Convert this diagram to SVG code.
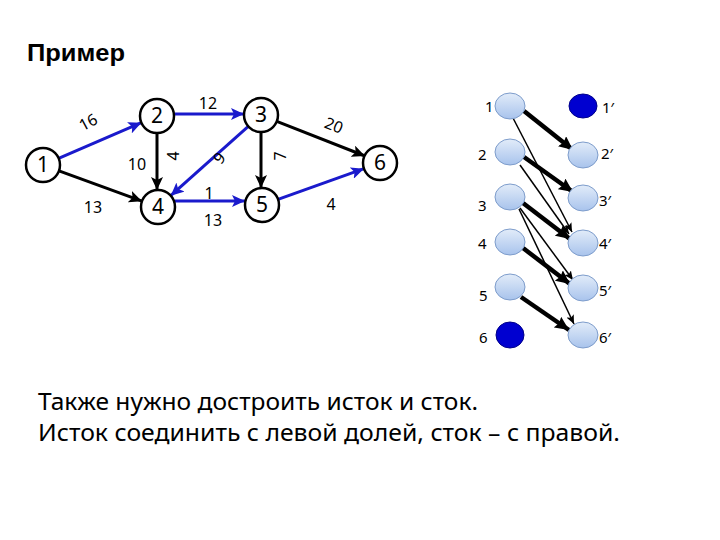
<svg xmlns="http://www.w3.org/2000/svg" width="720" height="540" viewBox="0 0 720 540">
<style>
.nd{fill:#fff;stroke:#000;stroke-width:2.5}
.nt{font-family:"Noto Sans","DejaVu Sans",sans-serif;font-size:21px;text-anchor:middle;dominant-baseline:central;fill:#000}
.el{font-family:"Noto Sans","DejaVu Sans",sans-serif;font-size:16px;text-anchor:middle;dominant-baseline:central;fill:#000}
.bl{stroke:#1a1acc;stroke-width:3;fill:none}
.bk{stroke:#000;stroke-width:3;fill:none}
.bn{fill:url(#lg);stroke:#7d9ccb;stroke-width:1}
.bf{fill:#0000d0;stroke:#00008a;stroke-width:1}
.bt{font-family:"Noto Sans","DejaVu Sans",sans-serif;font-size:15px;dominant-baseline:central;fill:#000}
.th{stroke:#000;stroke-width:4.5;fill:none}
.tn{stroke:#000;stroke-width:1.5;fill:none}
.tx{font-family:"Noto Sans","DejaVu Sans",sans-serif;font-size:24px;fill:#000}
</style>
<defs>
<linearGradient id="lg" x1="0" y1="0" x2="0" y2="1">
<stop offset="0" stop-color="#e2ecf9"/>
<stop offset="1" stop-color="#a8c3ec"/>
</linearGradient>
<marker id="ab" markerUnits="userSpaceOnUse" markerWidth="14" markerHeight="12" refX="13" refY="6" orient="auto"><path d="M0,0 L13,6 L0,12 L3,6 Z" fill="#1a1acc"/></marker>
<marker id="ak" markerUnits="userSpaceOnUse" markerWidth="14" markerHeight="12" refX="13" refY="6" orient="auto"><path d="M0,0 L13,6 L0,12 L3,6 Z" fill="#000"/></marker>
<marker id="at" markerUnits="userSpaceOnUse" markerWidth="15" markerHeight="13" refX="14" refY="6.5" orient="auto"><path d="M0,0 L14,6.5 L0,13 L2,6.5 Z" fill="#000"/></marker>
<marker id="an" markerUnits="userSpaceOnUse" markerWidth="10" markerHeight="8" refX="9" refY="4" orient="auto"><path d="M0,0 L9,4 L0,8 L2,4 Z" fill="#000"/></marker>
</defs>
<rect width="720" height="540" fill="#fff"/>
<text x="27" y="61" font-family="'Liberation Sans',Arial,sans-serif" font-size="24" font-weight="bold" textLength="98" lengthAdjust="spacingAndGlyphs">Пример</text>

<g id="connectors">
<line class="bl" x1="58.6" y1="158.3" x2="141.4" y2="122.7" marker-end="url(#ab)"/>
<line class="bk" x1="59" y1="170.8" x2="142" y2="201.2" marker-end="url(#ak)"/>
<line class="bk" x1="157" y1="133" x2="157" y2="190" marker-end="url(#ak)"/>
<line class="bl" x1="175" y1="114" x2="244" y2="114" marker-end="url(#ab)"/>
<line class="bl" x1="248.3" y1="126.3" x2="170.7" y2="195.7" marker-end="url(#ab)"/>
<line class="bl" x1="175" y1="201" x2="245" y2="201" marker-end="url(#ab)"/>
<line class="bk" x1="261" y1="132" x2="261" y2="188" marker-end="url(#ak)"/>
<line class="bk" x1="276.8" y1="121.4" x2="365" y2="156" marker-end="url(#ak)"/>
<line class="bl" x1="278" y1="199.3" x2="364" y2="168.7" marker-end="url(#ab)"/>

<line class="th" x1="524" y1="111" x2="573" y2="150" marker-end="url(#at)"/>
<line class="th" x1="524" y1="157" x2="573" y2="192" marker-end="url(#at)"/>
<line class="th" x1="523" y1="203" x2="570" y2="239" marker-end="url(#at)"/>
<line class="th" x1="523" y1="248" x2="570" y2="284" marker-end="url(#at)"/>
<line class="th" x1="521" y1="297" x2="569" y2="330" marker-end="url(#at)"/>
<line class="tn" x1="513" y1="118" x2="572" y2="232" marker-end="url(#an)"/>
<line class="tn" x1="520" y1="165" x2="569" y2="234" marker-end="url(#an)"/>
<line class="tn" x1="520" y1="208" x2="573" y2="280" marker-end="url(#an)"/>
<line class="tn" x1="519" y1="209" x2="574" y2="324" marker-end="url(#an)"/>
</g>

<g id="edge-labels">
<text class="el" transform="translate(88,122) rotate(-28)">16</text>
<text class="el" x="93" y="207">13</text>
<text class="el" x="137" y="164">10</text>
<text class="el" transform="translate(173,156) rotate(-90)">4</text>
<text class="el" x="208" y="103">12</text>
<text class="el" transform="translate(219,158) rotate(-50)">9</text>
<text class="el" x="209" y="193">1</text>
<text class="el" x="213" y="220">13</text>
<text class="el" transform="translate(280,156) rotate(-90)">7</text>
<text class="el" transform="translate(334,125) rotate(22)">20</text>
<text class="el" x="331" y="204">4</text>
</g>

<g id="n1"><circle class="nd" cx="43" cy="165" r="17"/><text class="nt" x="43" y="164">1</text></g>
<g id="n2"><circle class="nd" cx="157" cy="116" r="17"/><text class="nt" x="157" y="115">2</text></g>
<g id="n3"><circle class="nd" cx="261" cy="115" r="17"/><text class="nt" x="261" y="114">3</text></g>
<g id="n4"><circle class="nd" cx="158" cy="207" r="17"/><text class="nt" x="158" y="206">4</text></g>
<g id="n5"><circle class="nd" cx="262" cy="205" r="17"/><text class="nt" x="262" y="204">5</text></g>
<g id="n6"><circle class="nd" cx="380" cy="163" r="17"/><text class="nt" x="380" y="162">6</text></g>

<g id="L1"><ellipse class="bn" cx="510" cy="106" rx="15" ry="13"/><text class="bt" x="485" y="106">1</text></g>
<g id="L2"><ellipse class="bn" cx="510" cy="152" rx="15" ry="13"/><text class="bt" x="478" y="154">2</text></g>
<g id="L3"><ellipse class="bn" cx="510" cy="197" rx="15" ry="13"/><text class="bt" x="478" y="205">3</text></g>
<g id="L4"><ellipse class="bn" cx="510" cy="242" rx="15" ry="13"/><text class="bt" x="478" y="243">4</text></g>
<g id="L5"><ellipse class="bn" cx="510" cy="287" rx="15" ry="13"/><text class="bt" x="479" y="295">5</text></g>
<g id="L6"><ellipse class="bf" cx="510" cy="335" rx="14" ry="13"/><text class="bt" x="479" y="337">6</text></g>
<g id="R1"><ellipse class="bf" cx="583" cy="106" rx="14" ry="12"/><text class="bt" x="602" y="107">1′</text></g>
<g id="R2"><ellipse class="bn" cx="583" cy="155" rx="15" ry="13"/><text class="bt" x="601" y="153">2′</text></g>
<g id="R3"><ellipse class="bn" cx="583" cy="198" rx="15" ry="13"/><text class="bt" x="599" y="200">3′</text></g>
<g id="R4"><ellipse class="bn" cx="583" cy="243" rx="15" ry="13"/><text class="bt" x="599" y="243">4′</text></g>
<g id="R5"><ellipse class="bn" cx="583" cy="288" rx="15" ry="13"/><text class="bt" x="599" y="290">5′</text></g>
<g id="R6"><ellipse class="bn" cx="583" cy="335" rx="15" ry="13"/><text class="bt" x="599" y="337">6′</text></g>

<text class="tx" x="38" y="410" textLength="440" lengthAdjust="spacingAndGlyphs">Также нужно достроить исток и сток.</text>
<text class="tx" x="38" y="441" textLength="582" lengthAdjust="spacingAndGlyphs">Исток соединить с левой долей, сток – с правой.</text>
</svg>
